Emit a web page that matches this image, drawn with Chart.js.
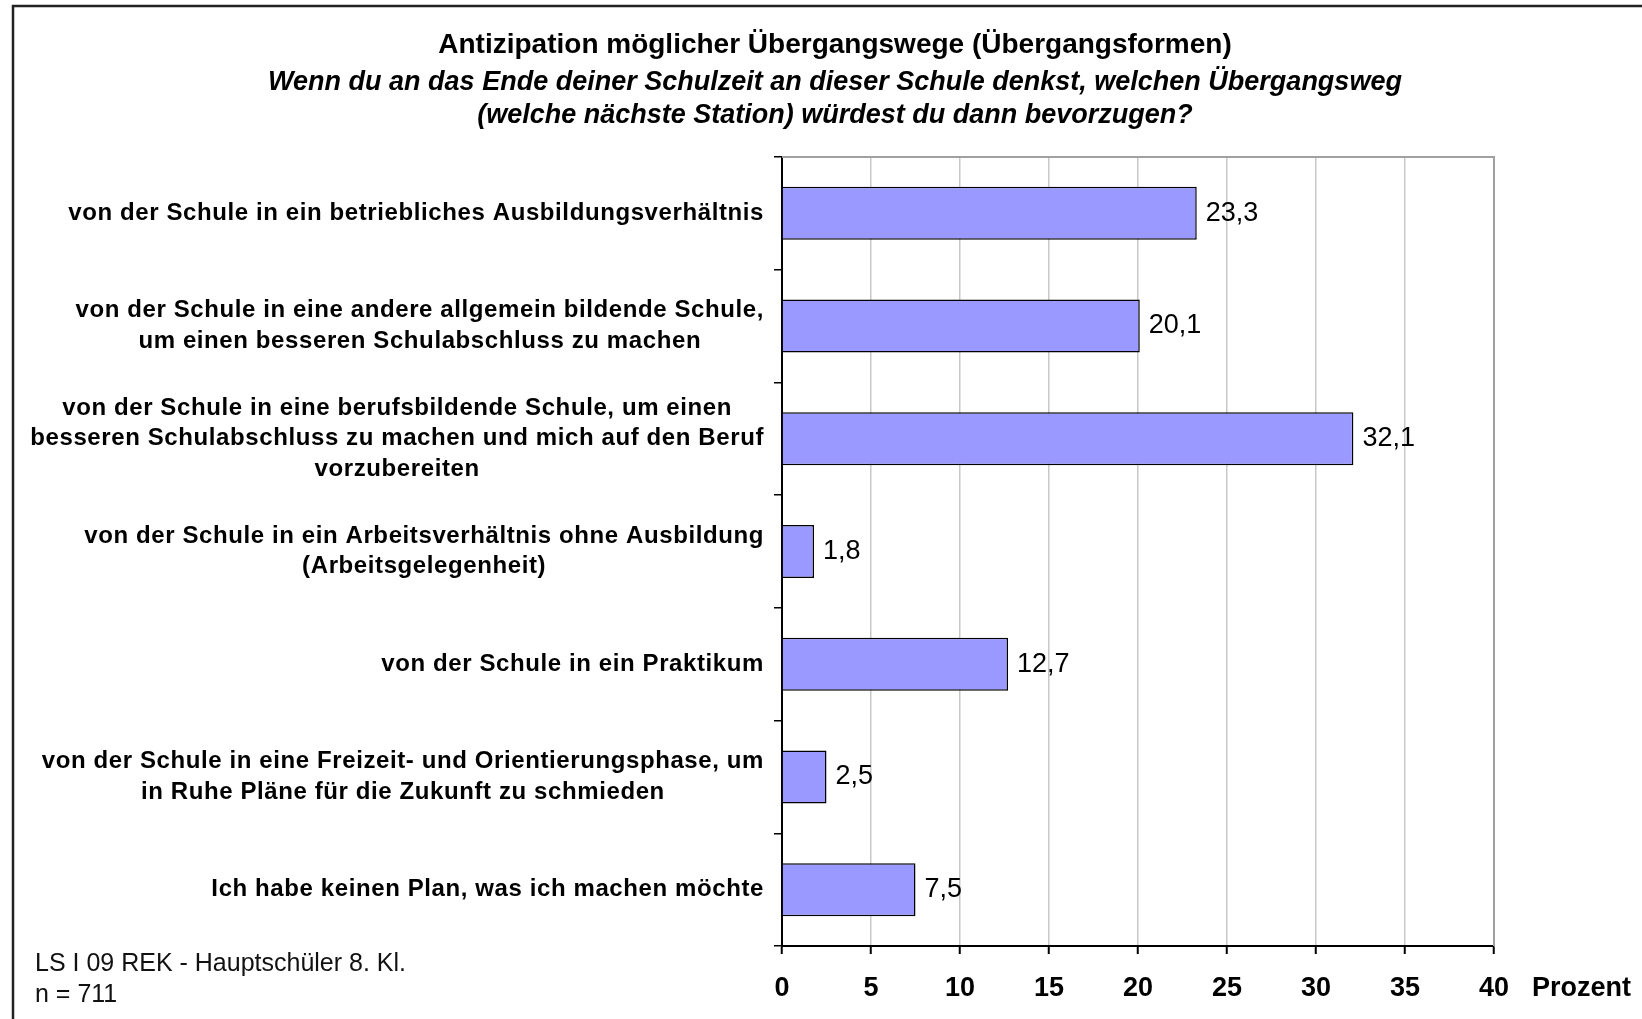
<!DOCTYPE html>
<html>
<head>
<meta charset="utf-8">
<script src="https://cdn.jsdelivr.net/npm/chart.js@4.4.1/dist/chart.umd.min.js"></script>
<style>
  html, body { margin: 0; padding: 0; background: #fff; }
  canvas { display: block; }
</style>
</head>
<body>
<canvas id="chart" width="1642" height="1019"></canvas>
<script>
const titleText = "Antizipation möglicher Übergangswege (Übergangsformen)";
const subtitleLines = [
  "Wenn du an das Ende deiner Schulzeit an dieser Schule denkst, welchen Übergangsweg",
  "(welche nächste Station) würdest du dann bevorzugen?"
];
const categories = [
  ["von der Schule in ein betriebliches Ausbildungsverhältnis"],
  ["von der Schule in eine andere allgemein bildende Schule,", "um einen besseren Schulabschluss zu machen"],
  ["von der Schule in eine berufsbildende Schule, um einen", "besseren Schulabschluss zu machen und mich auf den Beruf", "vorzubereiten"],
  ["von der Schule in ein Arbeitsverhältnis ohne Ausbildung", "(Arbeitsgelegenheit)"],
  ["von der Schule in ein Praktikum"],
  ["von der Schule in eine Freizeit- und Orientierungsphase, um", "in Ruhe Pläne für die Zukunft zu schmieden"],
  ["Ich habe keinen Plan, was ich machen möchte"]
];
const values = [23.3, 20.1, 32.1, 1.8, 12.7, 2.5, 7.5];
const xMin = 0, xMax = 40, xStep = 5;
const axisUnit = "Prozent";
const footnotes = ["LS I 09 REK - Hauptschüler 8. Kl.", "n = 711"];

const FONT = "'Liberation Sans', Arial, sans-serif";

// frame, plot borders, labels and notes
const decorations = {
  id: "decorations",
  beforeDraw(chart) {
    const ctx = chart.ctx;
    ctx.save();
    ctx.fillStyle = "#fff";
    ctx.fillRect(0, 0, chart.width, chart.height);
    ctx.restore();
  },
  afterDraw(chart) {
    const ctx = chart.ctx;
    const area = chart.chartArea;
    const y = chart.scales.y;
    ctx.save();

    // outer frame (top and left)
    ctx.strokeStyle = "#222";
    ctx.lineWidth = 2.5;
    ctx.beginPath();
    ctx.moveTo(chart.width, 6);
    ctx.lineTo(13, 6);
    ctx.lineTo(13, chart.height);
    ctx.stroke();

    // plot area top and right border
    ctx.strokeStyle = "#a0a0a0";
    ctx.lineWidth = 2;
    ctx.beginPath();
    ctx.moveTo(area.left, area.top);
    ctx.lineTo(area.right, area.top);
    ctx.lineTo(area.right, area.bottom);
    ctx.stroke();

    // category labels: block right aligned, lines centered
    ctx.fillStyle = "#000";
    ctx.font = "bold 24px " + FONT;
    ctx.letterSpacing = "0.6px";
    ctx.textAlign = "center";
    ctx.textBaseline = "middle";
    const rightEdge = area.left - 18;
    const lineH = 30.4;
    categories.forEach((lines, i) => {
      const cy = y.getPixelForTick(i);
      const w = Math.max(...lines.map(l => ctx.measureText(l).width));
      const cx = rightEdge - w / 2;
      lines.forEach((l, j) => {
        ctx.fillText(l, cx, cy + (j - (lines.length - 1) / 2) * lineH);
      });
    });
    ctx.letterSpacing = "0px";

    // value labels
    ctx.font = "27px " + FONT;
    ctx.textAlign = "left";
    const meta = chart.getDatasetMeta(0);
    meta.data.forEach((bar, i) => {
      ctx.fillText(values[i].toFixed(1).replace(".", ","), bar.x + 9, bar.y);
    });

    // axis unit
    ctx.font = "bold 27px " + FONT;
    ctx.fillText(axisUnit, area.right + 38, 989);

    // footnotes
    ctx.font = "25px " + FONT;
    ctx.fillStyle = "#111";
    footnotes.forEach((t, i) => ctx.fillText(t, 35, 964 + i * 31));

    ctx.restore();
  }
};

new Chart(document.getElementById("chart"), {
  type: "bar",
  data: {
    labels: categories,
    datasets: [{
      data: values,
      backgroundColor: "#9999ff",
      borderColor: "#000",
      borderWidth: 1.5,
      categoryPercentage: 1,
      barPercentage: 0.47
    }]
  },
  options: {
    indexAxis: "y",
    responsive: false,
    animation: false,
    layout: { padding: { left: 176, right: 148, top: 0, bottom: 0 } },
    plugins: {
      legend: { display: false },
      tooltip: { enabled: false },
      title: {
        display: true,
        text: titleText,
        color: "#000",
        font: { family: FONT, size: 28, weight: "bold", lineHeight: 1.2 },
        padding: { top: 28, bottom: 0 }
      },
      subtitle: {
        display: true,
        text: subtitleLines,
        color: "#000",
        font: { family: FONT, size: 27, weight: "bold", style: "italic", lineHeight: 1.24 },
        padding: { top: 4, bottom: 24.4 }
      }
    },
    scales: {
      x: {
        type: "linear",
        min: xMin,
        max: xMax,
        ticks: {
          stepSize: xStep,
          color: "#000",
          padding: 18,
          font: { family: FONT, size: 27, weight: "bold" }
        },
        grid: { color: "#c8c8c8", lineWidth: 1.5, tickColor: "#000", tickLength: 8, tickWidth: 2 },
        border: { color: "#000", width: 2 },
        afterFit(s) { s.height = 73; }
      },
      y: {
        type: "category",
        ticks: { display: false },
        grid: { drawOnChartArea: false, offset: true, tickLength: 8, color: "#000", lineWidth: 1.5 },
        border: { color: "#000", width: 2 },
        afterFit(s) { s.width = 606; }
      }
    }
  },
  plugins: [decorations]
});
</script>
</body>
</html>
